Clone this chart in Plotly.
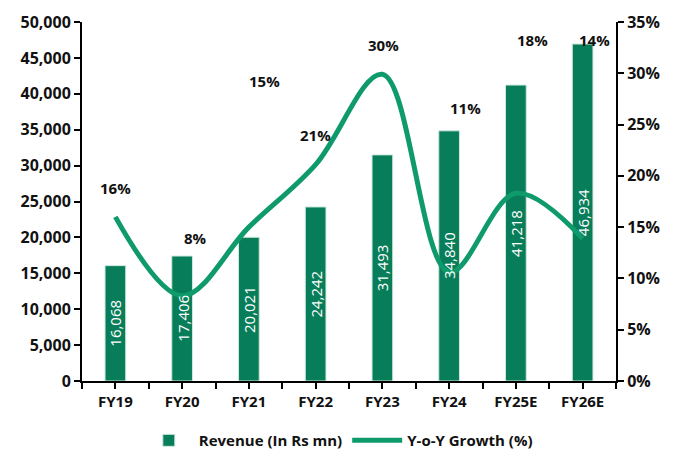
import plotly.graph_objects as go

categories = ["FY19", "FY20", "FY21", "FY22", "FY23", "FY24", "FY25E", "FY26E"]
revenue = [16068, 17406, 20021, 24242, 31493, 34840, 41218, 46934]
growth = [16.0, 8.3, 15.0, 21.1, 29.9, 10.6, 18.3, 13.9]
growth_labels = ["16%", "8%", "15%", "21%", "30%", "11%", "18%", "14%"]
# label placement (in % axis units) and horizontal shift (px), as in the original
label_pos = [18.8, 13.9, 29.2, 24.0, 32.8, 26.6, 33.2, 33.2]
label_shift = [0, 13, 16, 0, 1, 16, 17, 12]
left_ticks = [0, 5000, 10000, 15000, 20000, 25000, 30000, 35000, 40000, 45000, 50000]
right_ticks = [0, 5, 10, 15, 20, 25, 30, 35]

BAR = "#087d59"
LINE = "#0f9a6c"
FONT = "Open Sans, Lato, sans-serif"

x = list(range(len(categories)))

fig = go.Figure()
fig.add_trace(go.Bar(
    x=x, y=revenue, name="<b>Revenue (In Rs mn)</b>",
    marker=dict(color=BAR, line=dict(color="#cfe8dd", width=1)),
    width=0.31,
    yaxis="y",
))
fig.add_trace(go.Scatter(
    x=x, y=growth, name="<b>Y-o-Y Growth (%)</b>", mode="lines",
    line=dict(color=LINE, width=5, shape="spline", smoothing=1.0),
    yaxis="y2",
))

# bar value labels (drawn above the line, as in the original)
for i, v in enumerate(revenue):
    fig.add_annotation(x=x[i], y=v / 2, xref="x", yref="y", text=f"{v:,}",
                       textangle=-90, showarrow=False,
                       font=dict(size=15, color="white", family=FONT))

for i, lab in enumerate(growth_labels):
    fig.add_annotation(x=x[i], y=label_pos[i], yref="y2", xref="x",
                       text=f"<b>{lab}</b>", showarrow=False, xshift=label_shift[i],
                       font=dict(size=15, color="#111", family=FONT))

half = [i * 0.5 - 0.5 for i in range(2 * len(categories) + 1)]
ticktext = [categories[int(v)] if v >= 0 and abs(v - round(v)) < 1e-9 else "" for v in half]
ticktext = [f"<b>{t}</b>" if t else "" for t in ticktext]

fig.update_layout(
    width=679, height=453,
    margin=dict(l=82, r=63, t=22, b=72, autoexpand=False),
    plot_bgcolor="white", paper_bgcolor="white",
    font=dict(family=FONT, size=14, color="#111"),
    showlegend=True,
    legend=dict(orientation="h", x=0.48, xanchor="center", y=-0.12, yanchor="top",
                font=dict(size=15, family=FONT), itemwidth=50, tracegroupgap=0),
    bargap=0.6,
    xaxis=dict(range=[-0.5, len(categories) - 0.5], tickvals=half, ticktext=ticktext,
               ticks="outside", ticklen=6, tickwidth=2, tickcolor="black",
               showline=True, linecolor="black", linewidth=2, showgrid=False,
               zeroline=False, tickfont=dict(size=15)),
    yaxis=dict(range=[0, 50000], tickvals=left_ticks,
               ticktext=[f"<b>{v:,}</b>" for v in left_ticks],
               ticks="outside", ticklen=6, tickwidth=2, tickcolor="black",
               showline=True, linecolor="black", linewidth=2, showgrid=False,
               zeroline=False, tickfont=dict(size=16)),
    yaxis2=dict(range=[0, 35], overlaying="y", side="right", tickvals=right_ticks,
                ticktext=[f"<b>{v}%</b>" for v in right_ticks],
                ticks="outside", ticklen=6, tickwidth=2, tickcolor="black",
                showline=True, linecolor="black", linewidth=2, showgrid=False,
                zeroline=False, tickfont=dict(size=16)),
)

fig.write_html("out.html")
